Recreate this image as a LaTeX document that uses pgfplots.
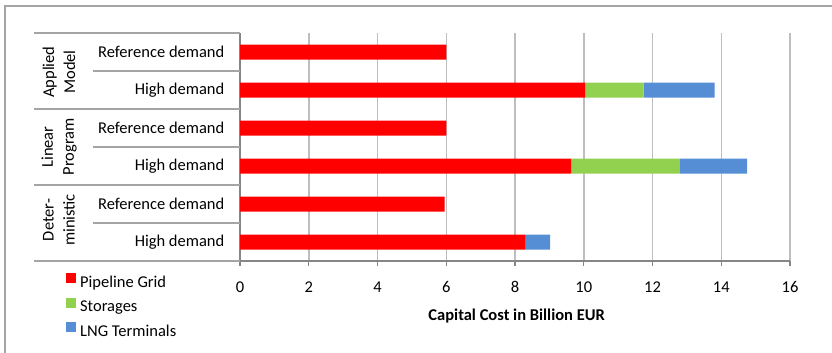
\documentclass[border=0pt]{standalone}
\usepackage{fontspec}
\setmainfont{Carlito}
\usepackage{pgfplots}
\pgfplotsset{compat=1.18}
\definecolor{pipe}{RGB}{255,0,0}
\definecolor{stor}{RGB}{146,208,80}
\definecolor{lng}{RGB}{85,142,213}
\definecolor{gridc}{RGB}{190,190,190}
\definecolor{axc}{RGB}{134,134,134}
\definecolor{framec}{RGB}{165,165,165}
\begin{document}
\fontsize{16.5bp}{21bp}\selectfont
\begin{tikzpicture}
\path[use as bounding box] (0bp,0bp) rectangle (832bp,353bp);
\draw[framec, line width=1.5bp] (5bp,0bp) -- (5bp,347bp) -- (832bp,347bp);
\begin{axis}[
  at={(240bp,92bp)}, anchor=south west,
  scale only axis, width=550bp, height=228bp,
  xbar stacked, bar width=15bp,
  xmin=0, xmax=16, xtick={0,2,...,16},
  ymin=-0.5, ymax=5.5, y dir=reverse,
  ytick={0,...,5},
  yticklabels={Reference demand, High demand, Reference demand, High demand, Reference demand, High demand},
  y tick style={draw=none},
  yticklabel style={anchor=east, xshift=-5bp},
  xticklabel style={yshift=-10bp},
  /pgf/number format/assume math mode=true,
  axis x line*=bottom, axis y line*=left,
  axis line style={axc, line width=1.5bp, -},
  x tick style={axc, line width=1.2bp},
  major tick length=5bp,
  tick align=outside,
  xmajorgrids, grid style={gridc, line width=1.5bp},
  xlabel={\bfseries Capital Cost in Billion EUR},
  xlabel style={at={(axis description cs:0.503,-0.241)}, anchor=center},
  clip=false,
  legend cell align=left,
  legend style={draw=none, fill=none, at={(axis description cs:-0.3164,-0.053)}, anchor=north west,
    inner sep=0pt, row sep=7.5bp, column sep=4bp,
    nodes={inner sep=0pt, text height=11bp, text depth=3bp}},
  legend image code/.code={\fill[#1] (0bp,0bp) rectangle (10bp,10bp);},
]
\addplot[fill=pipe, draw=none] coordinates {(6.0,0) (10.04,1) (6.0,2) (9.63,3) (5.95,4) (8.31,5)};
\addplot[fill=stor, draw=none] coordinates {(0,0) (1.70,1) (0,2) (3.15,3) (0,4) (0,5)};
\addplot[fill=lng, draw=none] coordinates {(0,0) (2.07,1) (0,2) (1.97,3) (0,4) (0.71,5)};
\legend{Pipeline Grid, Storages, LNG Terminals}
\pgfplotsinvokeforeach{-0.5,1.5,3.5,5.5}{
  \draw[framec, line width=1.5bp] (axis cs:0,#1) -- ++(-206bp,0bp);
}
\pgfplotsinvokeforeach{0.5,2.5,4.5}{
  \draw[framec, line width=1.5bp] (axis cs:0,#1) -- ++(-147bp,0bp);
}
\end{axis}
\node[rotate=90, align=center, inner sep=0pt] at (59bp,281bp) {Applied\\Model};
\node[rotate=90, align=center, inner sep=0pt] at (59bp,206bp) {Linear\\Program};
\node[rotate=90, align=center, inner sep=0pt] at (59bp,133bp) {Deter-\\ministic};
\end{tikzpicture}
\end{document}
